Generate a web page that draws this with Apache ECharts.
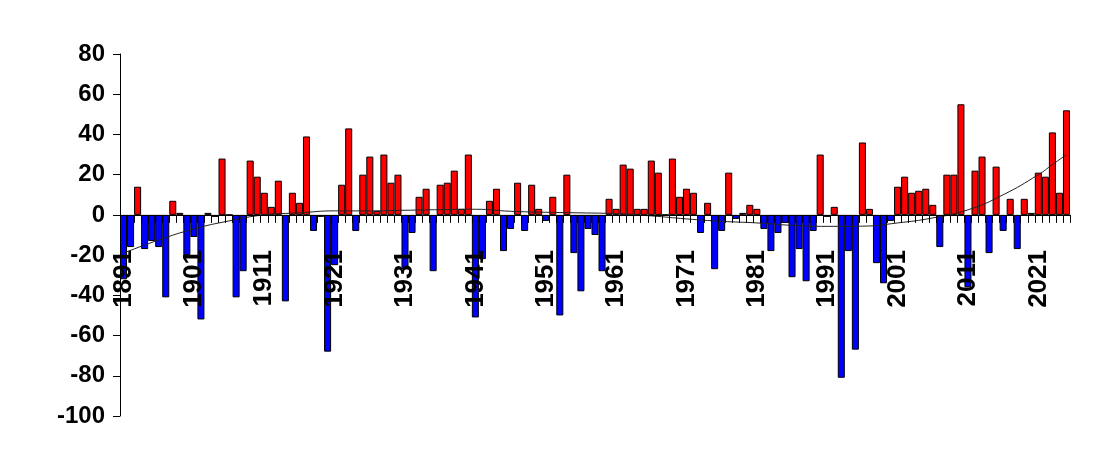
<!DOCTYPE html>
<html>
<head>
<meta charset="utf-8">
<script src="https://cdn.jsdelivr.net/npm/echarts@6/dist/echarts.min.js"></script>
<style>
html,body{margin:0;padding:0;background:#fff;}
#chart{width:1113px;height:462px;}
</style>
</head>
<body>
<div id="chart"></div>
<script>
const years = [
 '1891','1892','1893','1894','1895','1896','1897','1898','1899','1900',
 '1901','1902','1903','1904','1905','1906','1907','1908','1909','1910',
 '1911','1912','1913','1914','1915','1916','1917','1918','1919','1920',
 '1921','1922','1923','1924','1925','1926','1927','1928','1929','1930',
 '1931','1932','1933','1934','1935','1936','1937','1938','1939','1940',
 '1941','1942','1943','1944','1945','1946','1947','1948','1949','1950',
 '1951','1952','1953','1954','1955','1956','1957','1958','1959','1960',
 '1961','1962','1963','1964','1965','1966','1967','1968','1969','1970',
 '1971','1972','1973','1974','1975','1976','1977','1978','1979','1980',
 '1981','1982','1983','1984','1985','1986','1987','1988','1989','1990',
 '1991','1992','1993','1994','1995','1996','1997','1998','1999','2000',
 '2001','2002','2003','2004','2005','2006','2007','2008','2009','2010',
 '2011','2012','2013','2014','2015','2016','2017','2018','2019','2020',
 '2021','2022','2023','2024','2025'
];
const anomaly = [
 -32,-16,14,-17,-13,-16,-41,7,1,-20,
 -11,-52,1,-1,28,0,-41,-28,27,19,
 11,4,17,-43,11,6,39,-8,-1,-68,
 -25,15,43,-8,20,29,2,30,16,20,
 -27,-9,9,13,-28,15,16,22,3,30,
 -51,-22,7,13,-18,-7,16,-8,15,3,
 -3,9,-50,20,-19,-38,-7,-10,-28,8,
 3,25,23,3,3,27,21,0,28,9,
 13,11,-9,6,-27,-8,21,-2,1,5,
 3,-7,-18,-9,-4,-31,-17,-33,-8,30,
 -1,4,-81,-18,-67,36,3,-24,-34,-3,
 14,19,11,12,13,5,-16,20,20,55,
 -36,22,29,-19,24,-8,8,-17,8,1,
 21,19,41,11,52
];
// trend curve at a few years (others left empty)
const trendYears = ['1891','1896','1901','1906','1911','1916','1921','1926','1931','1936','1941','1946','1951','1956','1961','1966','1971','1976','1981','1986','1991','1996','2001','2006','2011','2016','2021','2023','2025'];
const trendValues = [-19,-12.5,-7,-3,0,1,2,2,2.3,2.6,2.8,1.8,1.3,1,0.6,-0.5,-2,-3.2,-4,-5.2,-5.7,-5.6,-4,-1.5,2.5,10,20,25,30];
const yTicks = {min:-100, max:80, step:20};

const trendData = years.map(y => {
  const i = trendYears.indexOf(y);
  return i >= 0 ? trendValues[i] : null;
});

const chart = echarts.init(document.getElementById('chart'), null, {renderer:'canvas'});
chart.setOption({
  animation:false,
  backgroundColor:'#ffffff',
  grid:{left:120, right:43, top:54, bottom:46, containLabel:false, outerBoundsMode:'none'},
  xAxis:{
    type:'category',
    data:years,
    boundaryGap:true,
    z:5,
    axisLine:{show:true, onZero:true, lineStyle:{color:'#000', width:1}},
    axisTick:{show:true, interval:0, length:8, lineStyle:{color:'#000', width:1}},
    axisLabel:{interval:9, rotate:90, margin:-166, fontSize:26, fontWeight:'bold',
      fontFamily:'Liberation Sans, Arial, sans-serif', color:'#000'},
    splitLine:{show:false}
  },
  yAxis:{
    type:'value',
    min:yTicks.min, max:yTicks.max, interval:yTicks.step,
    axisLine:{show:true, lineStyle:{color:'#000', width:1}},
    axisTick:{show:true, length:7, lineStyle:{color:'#000'}},
    axisLabel:{margin:15, fontSize:24, fontWeight:'bold',
      fontFamily:'Liberation Sans, Arial, sans-serif', color:'#000'},
    splitLine:{show:false}
  },
  series:[
    {
      type:'bar',
      data:anomaly,
      barCategoryGap:'0%',
      itemStyle:{
        color:function(p){ return p.value >= 0 ? '#ff0000' : '#0000ff'; },
        borderColor:'#000', borderWidth:1
      },
      z:2
    },
    {
      type:'line',
      data:trendData,
      connectNulls:true,
      smooth:0.5,
      showSymbol:false,
      symbol:'none',
      lineStyle:{color:'#222', width:1},
      z:3
    }
  ]
});
</script>
</body>
</html>
